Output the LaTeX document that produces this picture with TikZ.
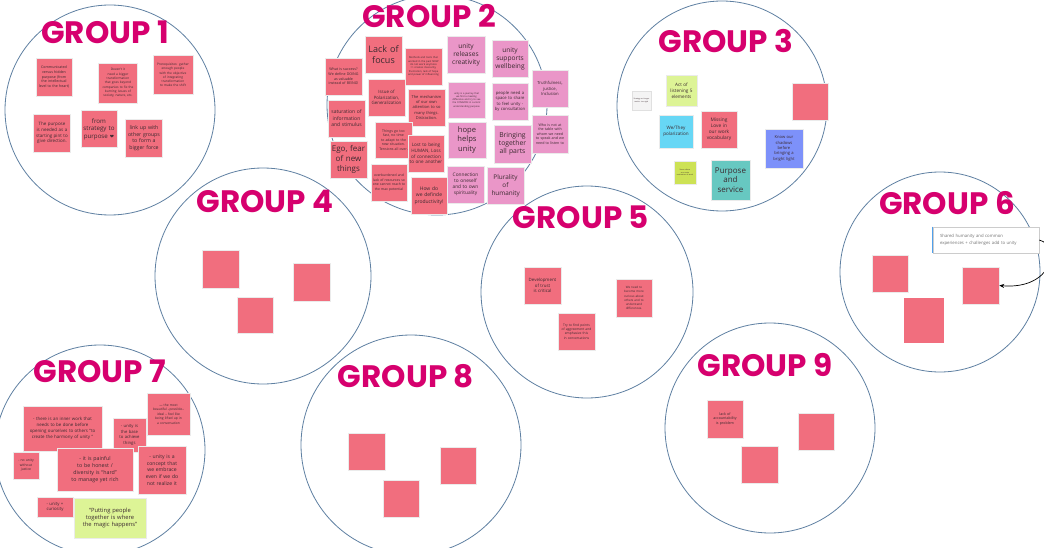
\documentclass[tikz,border=0pt]{standalone}
\usepackage{fontspec}
\setmainfont{Open Sans}
\newfontfamily\grpfont{Poppins}
\newfontfamily\symfont{DejaVu Sans}
\usetikzlibrary{arrows.meta}
\hyphenpenalty=10000
\exhyphenpenalty=10000
\definecolor{gcol}{RGB}{214,0,110}
\definecolor{circ}{RGB}{95,128,162}
\definecolor{nred}{RGB}{241,110,126}
\definecolor{npink}{RGB}{234,150,200}
\definecolor{nlime}{RGB}{221,244,150}
\definecolor{ncyan}{RGB}{103,215,245}
\definecolor{nblue}{RGB}{125,145,250}
\definecolor{nteal}{RGB}{103,200,193}
\definecolor{nyg}{RGB}{205,226,85}
\definecolor{ngray}{RGB}{244,244,244}
\definecolor{ntext}{RGB}{60,42,48}
\definecolor{barblue}{RGB}{80,160,235}
\tikzset{
  grp/.style={circle, draw=circ, line width=0.8pt, inner sep=0pt, minimum size=#1},
  glabel/.style={text=gcol, font=\grpfont\bfseries\fontsize{31}{31}\selectfont, inner sep=0pt},
  note/.style n args={3}{rectangle, fill=nred, draw=black!8, line width=0.5pt, minimum width=#1pt, minimum height=#2pt, text width=#3pt, align=center, inner sep=1pt, text=ntext},
}
\begin{document}
\begin{tikzpicture}[x=1pt,y=-1pt]
\useasboundingbox (0,0) rectangle (1044,548);
\clip (0,0) rectangle (1044,548);
\fill[white] (0,0) rectangle (1044,548);
% circles
\node[grp=210pt] (c1) at (110,110) {};
\node[grp=220pt] (c2) at (437,105) {};
\node[grp=210pt] (c3) at (722,106) {};
\node[grp=216pt] (c4) at (263,276) {};
\node[grp=212pt] (c5) at (587,292) {};
\node[grp=200pt] (c6) at (940,272) {};
\node[grp=210pt] (c7) at (100,450) {};
\node[grp=220pt] (c8) at (411,445) {};
\node[grp=210pt] (c9) at (770,428) {};
% labels
\node[glabel] (l1) at (105,32) {GROUP 1};
\node[glabel] (l2) at (429,16) {GROUP 2};
\node[glabel] (l3) at (726,41) {GROUP 3};
\node[glabel] (l4) at (265,201) {GROUP 4};
\node[glabel] (l5) at (581,217) {GROUP 5};
\node[glabel] (l6) at (947,203) {GROUP 6};
\node[glabel] (l7) at (100,371) {GROUP 7};
\node[glabel] (l8) at (406,376) {GROUP 8};
\node[glabel] (l9) at (765,365) {GROUP 9};
% Group 1
\node[note={36}{38}{32}, font=\fontsize{3.6}{4.6}\selectfont] (g1a) at (54,77) {Communicated versus hidden purpose (from the intellectual level to the heart)};
\node[note={39}{40}{32}, font=\fontsize{3.2}{4.3}\selectfont] (g1b) at (118,83) {Doesn't it need a bigger transformation that goes beyond companies to fix the burning issues of society, nature, etc.};
\node[note={40}{39}{34}, font=\fontsize{3.2}{4.3}\selectfont] (g1c) at (173,75) {Prerequisites: gather enough people with the objective of integrating transformation to make the shift};
\node[note={37}{38}{35}, font=\fontsize{4.5}{5.8}\selectfont] (g1d) at (52,133) {The purpose is needed as a starting pint to give direction.};
\node[note={36}{37}{33}, font=\fontsize{6.2}{7.6}\selectfont] (g1e) at (99,129) {from strategy to purpose {\symfont\fontsize{5}{5}\selectfont ❤}};
\node[note={37}{38}{34}, font=\fontsize{5.2}{6.6}\selectfont] (g1f) at (144,138) {link up with other groups to form a bigger force};
% Group 2
\node[note={37}{37}{34}, font=\fontsize{3.6}{4.6}\selectfont] (g2a) at (343.5,76.5) {What is success? We define DOING as valuable instead of BEING!};
\node[note={37}{37}{34}, font=\fontsize{9}{10.5}\selectfont] (g2b) at (383.5,54.5) {Lack of focus};
\node[note={37}{37}{34}, font=\fontsize{2.6}{3.4}\selectfont] (g2c) at (423.5,66.5) {Methods and tools that worked in the past NOW do not work anymore => creates insecurity, frustration, lack of hope and power of influencing};
\node[note={37}{37}{34}, font=\fontsize{5}{6.4}\selectfont] (g2d) at (346.5,118.5) {saturation of information and stimulus};
\node[note={37}{37}{34}, font=\fontsize{4.4}{5.6}\selectfont] (g2e) at (386.5,97.5) {Issue of Polarization, Generalization};
\node[note={37}{37}{32}, font=\fontsize{4}{5.2}\selectfont] (g2f) at (426.5,107.5) {The mechanism of our own attention to so many things. Distraction.};
\node[note={37}{37}{34}, font=\fontsize{8}{9.6}\selectfont] (g2g) at (348.5,159.5) {Ego, fear of new things};
\node[note={37}{36}{32}, font=\fontsize{3.5}{4.6}\selectfont] (g2h) at (393.5,140) {Things go too fast, no time to adapt to the new situation. Tensions all over.};
\node[note={36}{37}{34}, font=\fontsize{4.6}{5.8}\selectfont] (g2i) at (426,153.5) {Lost to being HUMAN, Loss of connection to one another};
\node[note={36}{37}{33}, font=\fontsize{3.4}{4.6}\selectfont] (g2j) at (389,182.5) {overburdened and lack of resources so one cannot reach to the max potential};
\node[note={36}{37}{34}, font=\fontsize{5}{6.4}\selectfont] (g2k) at (429,195.5) {How do we definde productivity!};
\node[note={38}{37}{35}, fill=npink, font=\fontsize{6.6}{8}\selectfont] (g2l) at (466,54.5) {unity releases creativity};
\node[note={36}{37}{34}, fill=npink, font=\fontsize{6.6}{8}\selectfont] (g2m) at (510,58.5) {unity supports wellbeing};
\node[note={37}{36}{32}, fill=npink, font=\fontsize{2.4}{3.2}\selectfont] (g2n) at (466.5,100) {unity is a journey that we find a meeting difference and try to see the COMMON in current understanding purpose};
\node[note={36}{37}{31}, fill=npink, font=\fontsize{4.2}{5.4}\selectfont] (g2o) at (510,101.5) {people need a space to share to feel unity - by consultation};
\node[note={36}{37}{28}, fill=npink, font=\fontsize{4.2}{5.4}\selectfont] (g2p) at (550,88.5) {Truthfulness, justice, Inclusion};
\node[note={36}{38}{34}, fill=npink, font=\fontsize{3.6}{4.6}\selectfont] (g2q) at (550,134) {Who is not at the table with whom we need to speak and we need to listen to};
\node[note={38}{36}{35}, fill=npink, font=\fontsize{7.6}{9.2}\selectfont] (g2r) at (467,140) {hope helps unity};
\node[note={37}{38}{35}, fill=npink, font=\fontsize{6.8}{8.2}\selectfont] (g2s) at (512.5,144) {Bringing together all parts};
\node[note={37}{37}{31}, fill=npink, font=\fontsize{4.8}{6}\selectfont] (g2t) at (465.5,184.5) {Connection to oneself and to own spirituality};
\node[note={37}{37}{28}, fill=npink, font=\fontsize{6.4}{8}\selectfont] (g2u) at (505.5,185.5) {Plurality of humanity};
% Group 3
\node[note={19}{19}{16}, fill=ngray, draw=black!12, font=\fontsize{1.8}{2.4}\selectfont] (g3a) at (641.5,100.5) {Strategy no longer works: too rigid};
\node[note={31}{31}{29}, fill=nlime, font=\fontsize{4.6}{5.8}\selectfont] (g3b) at (681.5,90.5) {Act of listening 5 elements};
\node[note={36}{37}{34}] (g3c) at (810,101.5) {};
\node[note={34}{33}{32}, fill=ncyan, font=\fontsize{4.6}{5.8}\selectfont] (g3d) at (676,131.5) {We/They polarization};
\node[note={36}{37}{28}, font=\fontsize{4.8}{6}\selectfont] (g3e) at (719,129.5) {Missing Love in our work vocabulary};
\node[note={38}{39}{27}, fill=nblue, font=\fontsize{4.1}{5.3}\selectfont] (g3f) at (784,148.5) {Know our shadows before bringing a bright light};
\node[note={22}{23}{18}, fill=nyg, font=\fontsize{1.8}{2.4}\selectfont] (g3g) at (685,172.5) {Serve others as a main motivation of work};
\node[note={39}{40}{37}, fill=nteal, font=\fontsize{8}{9.8}\selectfont] (g3h) at (730.5,180) {Purpose and service};
% Group 4
\node[note={37}{38}{34}] (g4a) at (220.5,269) {};
\node[note={37}{38}{34}] (g4b) at (311.5,282) {};
\node[note={36}{36}{33}] (g4c) at (255,315) {};
% Group 5
\node[note={37}{37}{29}, font=\fontsize{4.4}{5.6}\selectfont] (g5a) at (542.5,285.5) {Development of trust is critical};
\node[note={36}{38}{26}, font=\fontsize{3}{4.1}\selectfont] (g5b) at (634,298) {We need to become more curious about others and to understand differences.};
\node[note={37}{37}{30}, font=\fontsize{3.3}{4.4}\selectfont] (g5c) at (576.5,331.5) {Try to find points of aggreement and emphasize this in conversations};
% Group 6
\node[rectangle, fill=white, draw=black!20, line width=0.5pt, minimum width=106pt, minimum height=26pt, text width=92pt, align=left, inner sep=0pt, text=black!55, font=\fontsize{4.3}{7}\selectfont] (g6t) at (986,240) {Shared humanity and common\\experiences + challenges add to unity};
\draw[line width=1.2pt, draw=barblue] (g6t.north west) -- (g6t.south west);
\node[note={36}{37}{33}] (g6a) at (890,273.5) {};
\node[note={37}{37}{34}] (g6b) at (980.5,285.5) {};
\node[note={40}{45}{37}, draw=none] (g6c) at (924,320.5) {};
\draw[-{Stealth[length=5pt,width=4pt]}, line width=0.7pt] (g6t.east) .. controls (1062,246) and (1052,290) .. (g6b.east);
% Group 7
\node[note={79}{45}{68}, font=\fontsize{4.4}{5.8}\selectfont] (g7a) at (62.5,428.5) {- there is an inner work that needs to be done before opening ourselves to others ``to create the harmony of unity ''};
\node[note={43}{42}{31}, font=\fontsize{3.3}{4.4}\selectfont] (g7b) at (168.5,414) {--- the most beautiful --possible-- ideal -- feel like being lifted up in a conversation};
\node[note={33}{34}{27}, font=\fontsize{4.2}{5.4}\selectfont] (g7c) at (129.5,435) {- unity is the base to achieve things};
\node[note={26}{27}{21}, font=\fontsize{3.4}{4.4}\selectfont] (g7d) at (26,465.5) {- no unity without justice};
\node[note={76}{43}{60}, font=\fontsize{5.3}{7}\selectfont] (g7e) at (95,469.5) {- it is painful to be honest / diversity is ``hard'' to manage yet rich};
\node[note={48}{48}{38}, font=\fontsize{5.1}{6.6}\selectfont] (g7f) at (162,470) {- unity is a concept that we embrace even if we do not realize it};
\node[note={36}{20}{27}, font=\fontsize{4.3}{5.4}\selectfont] (g7g) at (55,507) {- unity = curiosity};
\node[note={72}{40}{60}, fill=nlime, font=\fontsize{5.8}{7.4}\selectfont] (g7h) at (110,518) {``Putting people together is where the magic happens''};
% Group 8
\node[note={37}{37}{34}] (g8a) at (366.5,451.5) {};
\node[note={36}{37}{33}] (g8b) at (458,465.5) {};
\node[note={36}{37}{33}] (g8c) at (401,498.5) {};
% Group 9
\node[note={36}{38}{29}, font=\fontsize{3.6}{4.6}\selectfont] (g9a) at (725,419) {lack of accountability is problem};
\node[note={36}{37}{33}] (g9b) at (816,431.5) {};
\node[note={37}{37}{34}] (g9c) at (759.5,464.5) {};
\end{tikzpicture}
\end{document}
